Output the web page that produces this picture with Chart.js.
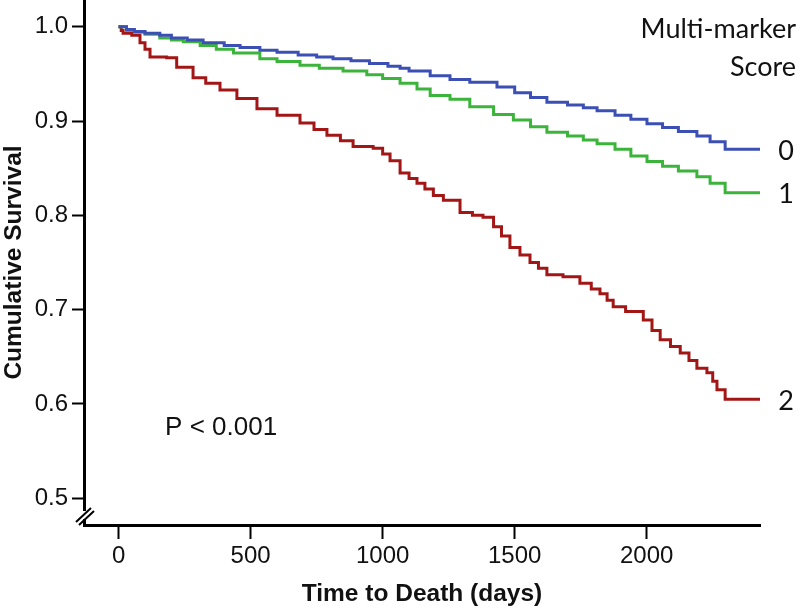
<!DOCTYPE html>
<html lang="en">
<head>
    <meta charset="UTF-8">
    <title>Cumulative Survival by Multi-marker Score</title>
    <script src="https://cdn.jsdelivr.net/npm/chart.js"></script>
    <style>
        html, body {
            margin: 0;
            padding: 0;
            background: white;
        }
        #wrap {
            width: 800px;
            height: 609px;
        }
    </style>
</head>
<body>
    <div id="wrap"><canvas id="survChart"></canvas></div>

    <script>
        // score group labels shown at the right end of each curve
        const groups = ['0', '1', '2'];

        // Kaplan-Meier steps (days, cumulative survival)
        const daysScore0 = [0, 30, 60, 100, 156, 200, 260, 320, 400, 460, 535, 600, 680, 750, 812, 880, 950, 1020, 1066, 1100, 1180, 1255, 1330, 1433, 1500, 1560, 1622, 1700, 1760, 1812, 1880, 1940, 2001, 2060, 2120, 2190, 2240, 2297, 2429];
        const survScore0 = [1.0, 0.997, 0.995, 0.993, 0.991, 0.988, 0.986, 0.983, 0.980, 0.978, 0.975, 0.973, 0.970, 0.968, 0.966, 0.964, 0.961, 0.958, 0.956, 0.953, 0.948, 0.944, 0.941, 0.936, 0.930, 0.925, 0.920, 0.917, 0.914, 0.911, 0.906, 0.902, 0.897, 0.893, 0.889, 0.884, 0.878, 0.870, 0.870];

        const daysScore1 = [0, 30, 60, 100, 156, 200, 245, 309, 370, 435, 535, 600, 687, 760, 850, 940, 1000, 1066, 1130, 1180, 1255, 1330, 1420, 1495, 1560, 1622, 1700, 1760, 1812, 1880, 1940, 2001, 2060, 2120, 2190, 2240, 2297, 2429];
        const survScore1 = [1.0, 0.996, 0.994, 0.992, 0.988, 0.986, 0.984, 0.980, 0.976, 0.972, 0.966, 0.963, 0.959, 0.956, 0.953, 0.949, 0.945, 0.940, 0.934, 0.927, 0.923, 0.915, 0.907, 0.901, 0.894, 0.888, 0.884, 0.880, 0.876, 0.870, 0.863, 0.857, 0.852, 0.847, 0.841, 0.834, 0.824, 0.824];

        const daysScore2 = [0, 10, 17, 50, 81, 100, 119, 182, 220, 282, 330, 384, 448, 524, 600, 687, 740, 789, 840, 888, 964, 1000, 1028, 1066, 1100, 1130, 1160, 1192, 1230, 1293, 1340, 1380, 1420, 1450, 1482, 1520, 1558, 1590, 1622, 1683, 1747, 1790, 1823, 1850, 1873, 1920, 1987, 2020, 2051, 2090, 2127, 2160, 2190, 2228, 2250, 2266, 2297, 2429];
        const survScore2 = [1.0, 0.996, 0.993, 0.991, 0.983, 0.976, 0.968, 0.967, 0.957, 0.946, 0.940, 0.933, 0.924, 0.913, 0.906, 0.898, 0.891, 0.885, 0.879, 0.873, 0.871, 0.865, 0.858, 0.845, 0.839, 0.834, 0.828, 0.821, 0.816, 0.803, 0.800, 0.798, 0.788, 0.778, 0.766, 0.758, 0.750, 0.744, 0.737, 0.735, 0.728, 0.722, 0.717, 0.710, 0.703, 0.698, 0.689, 0.678, 0.668, 0.661, 0.654, 0.646, 0.638, 0.633, 0.624, 0.615, 0.605, 0.605];

        const xTicks = [0, 500, 1000, 1500, 2000];
        const yTicks = [0.5, 0.6, 0.7, 0.8, 0.9, 1.0];

        const colors = ['#3c4fb4', '#3cb43c', '#a31616'];
        const allDays = [daysScore0, daysScore1, daysScore2];
        const allSurv = [survScore0, survScore1, survScore2];

        const datasets = groups.map((g, i) => ({
            label: g,
            data: allDays[i].map((d, j) => ({ x: d, y: allSurv[i][j] })),
            borderColor: colors[i],
            borderWidth: 3,
            pointRadius: 0,
            stepped: true,
            fill: false
        }));

        // extra text: group labels, legend title, p-value and the axis break mark
        const annotations = {
            id: 'annotations',
            afterDraw(chart) {
                const c = chart.ctx;
                const xs = chart.scales.x, ys = chart.scales.y;
                c.save();
                c.fillStyle = '#111';
                c.font = '27px Lato, "Open Sans", sans-serif';
                c.textAlign = 'right';
                c.textBaseline = 'alphabetic';
                c.fillText('Multi-marker', 796, 38);
                c.fillText('Score', 796, 76);

                c.textAlign = 'center';
                c.textBaseline = 'middle';
                groups.forEach((g, i) => {
                    const s = allSurv[i];
                    c.fillText(g, 786, ys.getPixelForValue(s[s.length - 1]) + 2);
                });

                c.font = '26px "Liberation Sans", Arial, sans-serif';
                c.textAlign = 'left';
                c.fillText('P < 0.001', xs.getPixelForValue(176), ys.getPixelForValue(0.5745));

                // axis break "//"
                const bx = chart.chartArea.left, by = chart.chartArea.bottom;
                c.strokeStyle = '#000';
                c.lineWidth = 2;
                c.fillStyle = 'white';
                c.fillRect(bx - 4, by - 14, 8, 8);
                c.beginPath();
                c.moveTo(bx - 8, by - 3); c.lineTo(bx + 7, by - 17);
                c.moveTo(bx - 5, by + 0); c.lineTo(bx + 10, by - 14);
                c.stroke();
                c.restore();
            }
        };

        const ctx = document.getElementById('survChart').getContext('2d');
        new Chart(ctx, {
            type: 'line',
            data: { datasets: datasets },
            options: {
                responsive: true,
                maintainAspectRatio: false,
                animation: false,
                layout: { autoPadding: false, padding: { left: 0, right: 40, top: 0, bottom: 0 } },
                plugins: {
                    legend: { display: false },
                    tooltip: { enabled: false }
                },
                scales: {
                    x: {
                        type: 'linear',
                        min: -131,
                        max: 2429,
                        afterBuildTicks: s => { s.ticks = xTicks.map(v => ({ value: v })); },
                        afterFit: s => {
                            s.height = 84;
                            s.paddingLeft = 0;
                            s.paddingRight = 0;
                        },
                        border: { color: '#000', width: 3 },
                        grid: {
                            drawOnChartArea: false,
                            tickLength: 14,
                            tickColor: '#000',
                            tickWidth: 2
                        },
                        ticks: {
                            color: '#111',
                            padding: 3,
                            maxRotation: 0,
                            font: { family: '"Liberation Sans", Arial, sans-serif', size: 24 },
                            callback: v => String(v)
                        },
                        title: {
                            display: true,
                            text: 'Time to Death (days)',
                            color: '#111',
                            padding: { top: 0, bottom: 0 },
                            font: { family: '"Liberation Sans", Arial, sans-serif', size: 24.5, weight: 'bold' }
                        }
                    },
                    y: {
                        min: 0.4717,
                        max: 1.0283,
                        afterBuildTicks: s => { s.ticks = yTicks.map(v => ({ value: v })); },
                        afterFit: s => {
                            s.width = 84;
                            s.paddingTop = 0;
                            s.paddingBottom = 0;
                        },
                        border: { color: '#000', width: 3 },
                        grid: {
                            drawOnChartArea: false,
                            tickLength: 12,
                            tickColor: '#000',
                            tickWidth: 2
                        },
                        ticks: {
                            color: '#111',
                            padding: 4,
                            font: { family: '"Liberation Sans", Arial, sans-serif', size: 24 },
                            callback: v => v.toFixed(1)
                        },
                        title: {
                            display: true,
                            text: 'Cumulative Survival',
                            color: '#111',
                            padding: { top: 0, bottom: 0 },
                            font: { family: '"Liberation Sans", Arial, sans-serif', size: 24.5, weight: 'bold' }
                        }
                    }
                }
            },
            plugins: [annotations]
        });
    </script>
</body>
</html>
